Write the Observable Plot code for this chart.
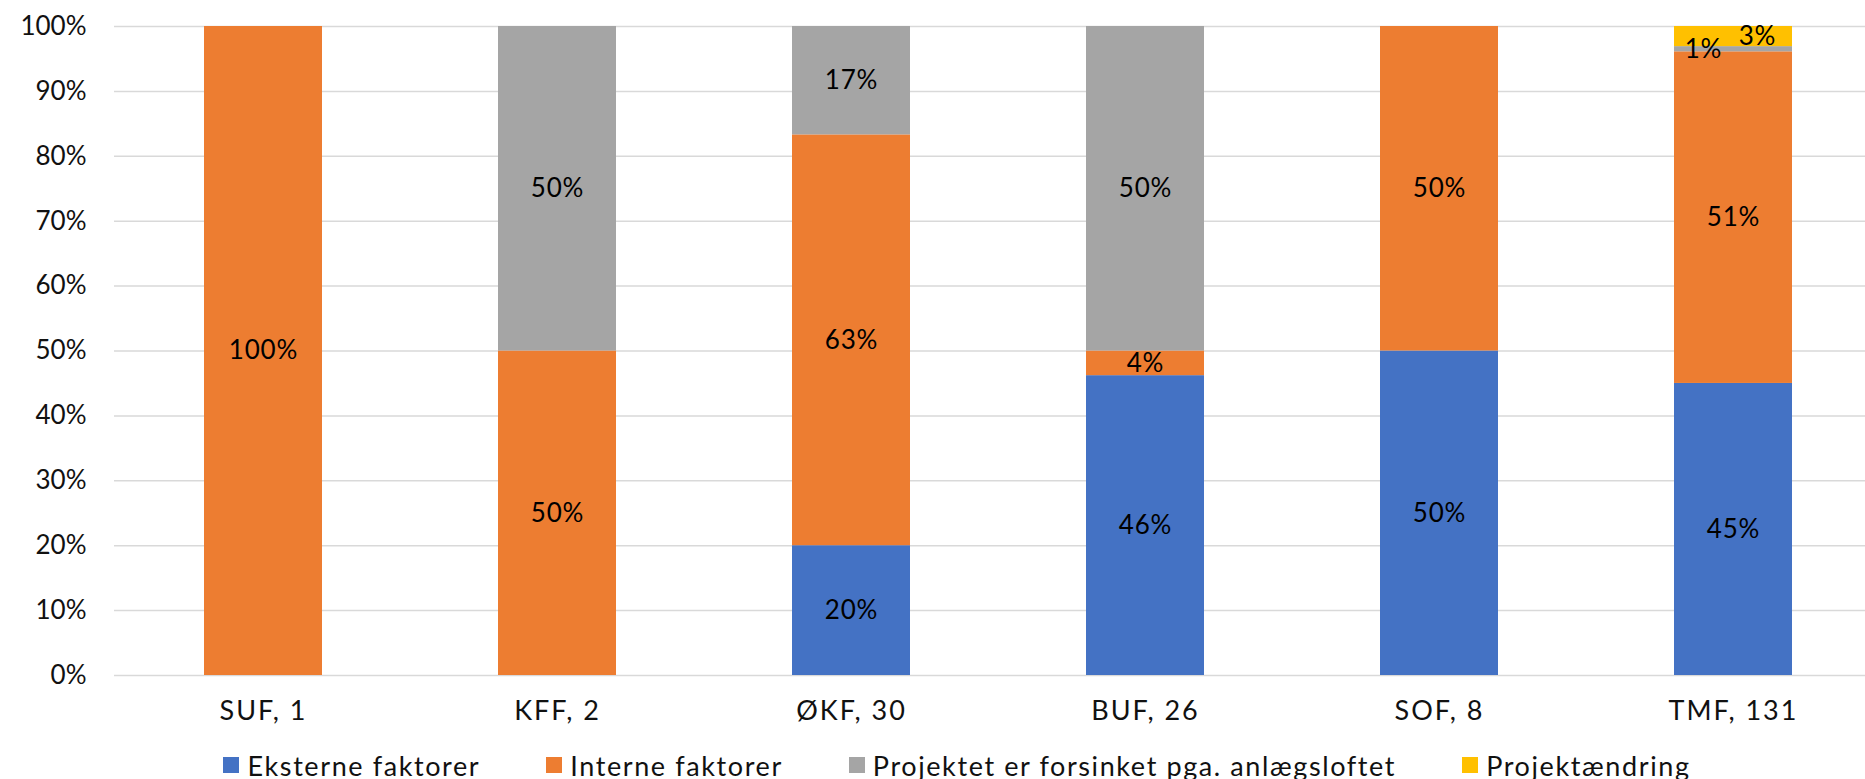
<!DOCTYPE html>
<html>
<head>
<meta charset="utf-8">
<script src="https://cdn.jsdelivr.net/npm/d3@7"></script>
<script src="https://cdn.jsdelivr.net/npm/@observablehq/plot@0.6"></script>
<style>
  html, body { margin: 0; padding: 0; background: #fff; }
  body { width: 1865px; height: 779px; overflow: hidden; font-family: Lato, "Open Sans", sans-serif; }
  #legend { display: flex; justify-content: center; align-items: center; height: 50px; margin-left: 49px; font-size: 27px; letter-spacing: 1.6px; color: #111; }
  .item { display: flex; align-items: center; margin: 0 33px; white-space: nowrap; }
  .sw { width: 16px; height: 16px; margin-right: 8px; flex: none; }
  g[aria-label="x-axis tick label"] text { letter-spacing: 2px; }
  g[aria-label="text"] text { letter-spacing: 0.8px; }
</style>
</head>
<body>
<div id="chart"></div>
<div id="legend"></div>
<script>
const categories = ["SUF, 1", "KFF, 2", "ØKF, 30", "BUF, 26", "SOF, 8", "TMF, 131"];
const seriesNames = ["Eksterne faktorer", "Interne faktorer", "Projektet er forsinket pga. anlægsloftet", "Projektændring"];
const seriesColors = ["#4472C4", "#ED7D31", "#A5A5A5", "#FFC000"];
const eksterne = [0, 0, 20, 46.2, 50, 45.0];
const interne = [100, 50, 63.3, 3.8, 50, 51.1];
const forsinket = [0, 50, 16.7, 50, 0, 0.8];
const aendring = [0, 0, 0, 0, 0, 3.1];
const yTicks = [0, 10, 20, 30, 40, 50, 60, 70, 80, 90, 100];

const seriesValues = [eksterne, interne, forsinket, aendring];
const data = [];
seriesNames.forEach((s, si) => {
  categories.forEach((c, ci) => {
    if (seriesValues[si][ci] > 0) data.push({category: c, series: s, value: seriesValues[si][ci]});
  });
});

const fmt = v => d3.format(".0f")(v) + "%";
const tinyGrey = d => d.series === seriesNames[2] && d.value < 2;
const tinyYellow = d => d.series === seriesNames[3] && d.value < 5;
const textOpts = (text, dx) => Plot.stackY({
  x: "category", y: "value", order: null, text,
  fill: "#000", fontSize: 26, dx
});

const chart = Plot.plot({
  width: 1865,
  height: 740,
  marginLeft: 114,
  marginRight: 0,
  marginTop: 26,
  marginBottom: 65,
  style: {fontFamily: "Lato, 'Open Sans', sans-serif", fontSize: "26px", color: "#111", background: "#fff"},
  x: {domain: categories, range: [114, 1880.7], paddingInner: 0.6, paddingOuter: 0.3, label: null},
  y: {domain: [0, 100], label: null},
  color: {domain: seriesNames, range: seriesColors},
  marks: [
    Plot.ruleY(yTicks, {stroke: "#d9d9d9", strokeWidth: 1.5}),
    Plot.barY(data, Plot.stackY({x: "category", y: "value", fill: "series", order: null})),
    Plot.text(data, textOpts(d => (tinyGrey(d) || tinyYellow(d)) ? "" : fmt(d.value), 0)),
    Plot.text(data, textOpts(d => tinyGrey(d) ? fmt(d.value) : "", -30)),
    Plot.text(data, textOpts(d => tinyYellow(d) ? fmt(d.value) : "", 24)),
    Plot.axisY({ticks: yTicks, tickSize: 0, tickPadding: 28, tickFormat: d => d + "%", fontSize: 26, fill: "#111"}),
    Plot.axisX({tickSize: 0, tickPadding: 25, fontSize: 27, fill: "#111"})
  ]
});
document.getElementById("chart").appendChild(chart);

const legend = document.getElementById("legend");
seriesNames.forEach((s, i) => {
  const item = document.createElement("div");
  item.className = "item";
  const sw = document.createElement("div");
  sw.className = "sw";
  sw.style.background = seriesColors[i];
  const t = document.createElement("span");
  t.textContent = s;
  item.appendChild(sw);
  item.appendChild(t);
  legend.appendChild(item);
});
</script>
</body>
</html>
